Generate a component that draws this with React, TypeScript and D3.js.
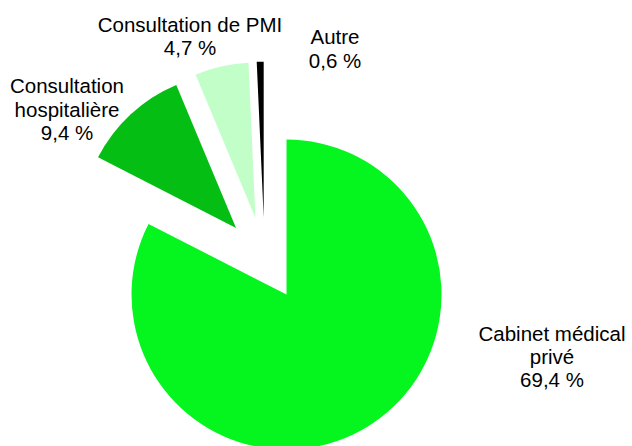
import React from "react";
import * as d3 from "d3";

const categories = ["Cabinet médical privé", "Consultation hospitalière", "Consultation de PMI", "Autre"];
const values = [69.4, 9.4, 4.7, 0.6];
const labelLines = [
  ["Cabinet médical", "privé", "69,4 %"],
  ["Consultation", "hospitalière", "9,4 %"],
  ["Consultation de PMI", "4,7 %"],
  ["Autre", "0,6 %"],
];
const colors = ["#05F51F", "#05BE14", "#C2FEC7", "#000000"];

// layout (label anchor = center x, first baseline y)
const W = 632, H = 446;
const CX = 264.6, CY = 258.7, R = 155, EXPLODE = 42;
const labelPos: [number, number][] = [
  [552, 340.7],
  [67, 93.3],
  [190, 31.7],
  [335, 44.3],
];
const LINE_H = 23.3;

export default function App() {
  const data = categories.map((c, i) => ({ c, v: values[i], i }));
  const pie = d3.pie<any>().sort(null).value((d) => d.v).startAngle(0).endAngle(2 * Math.PI);
  const arcs = pie(data);
  const arc = d3.arc<any>().innerRadius(0).outerRadius(R);
  return (
    <svg width={W} height={H} style={{ position: "absolute", left: 0, top: 0, background: "#fff" }}>
      <g transform={`translate(${CX},${CY})`}>
        {arcs.map((a, i) => {
          const mid = (a.startAngle + a.endAngle) / 2;
          const dx = Math.sin(mid) * EXPLODE;
          const dy = -Math.cos(mid) * EXPLODE;
          return (
            <path key={i} d={arc(a) as string} fill={colors[i]} transform={`translate(${dx},${dy})`} />
          );
        })}
      </g>
      {labelLines.map((lines, i) => (
        <text
          key={i}
          x={labelPos[i][0]}
          y={labelPos[i][1]}
          textAnchor="middle"
          fontFamily="'Liberation Sans', Arial, sans-serif"
          fontSize={20.5}
          fill="#000"
        >
          {lines.map((l, j) => (
            <tspan key={j} x={labelPos[i][0]} y={labelPos[i][1] + j * LINE_H}>
              {l}
            </tspan>
          ))}
        </text>
      ))}
    </svg>
  );
}
